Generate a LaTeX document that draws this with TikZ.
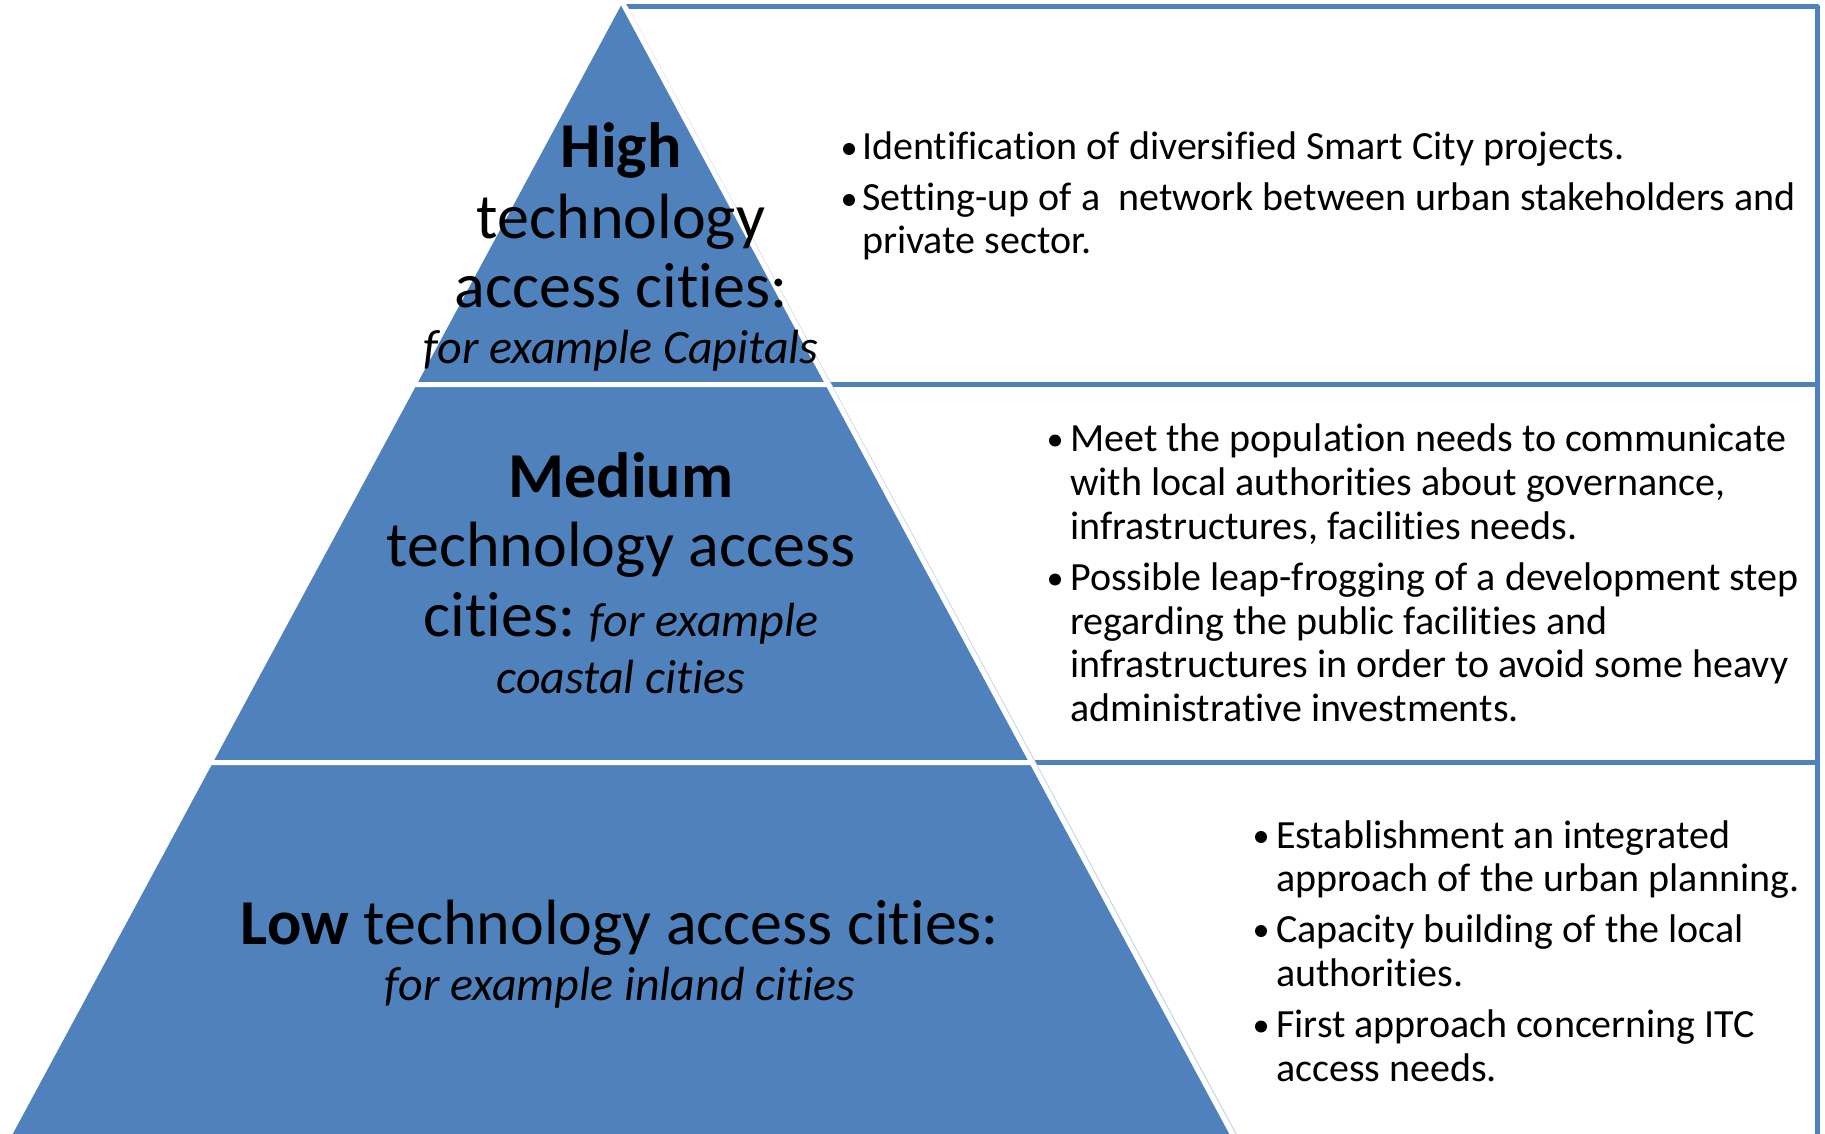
\documentclass[tikz,border=0pt]{standalone}
\usepackage{fontspec}
\setmainfont[Ligatures={NoCommon,NoContextual}]{Carlito}
\definecolor{pblue}{RGB}{79,129,189}
\definecolor{paleblue}{RGB}{198,214,236}
\newcommand\pyrbig{\fontsize{64}{70}\selectfont}
\newcommand\pyrit{\fontsize{48}{56}\selectfont\itshape}
\newcommand\bultxt{\fontsize{40}{44}\selectfont}
\tikzset{
  lvl/.style={font=\pyrbig, anchor=base, inner sep=0pt},
  lvlit/.style={font=\pyrit, anchor=base, inner sep=0pt},
  btxt/.style={font=\bultxt, anchor=base west, inner sep=0pt},
  seg/.style={fill=pblue, draw=white, line width=5pt, line join=miter},
  boxline/.style={draw=pblue, line width=4.5pt, line join=round},
  bdot/.style={fill=black},
}
\begin{document}
\begin{tikzpicture}[x=1pt,y=-1pt]
\useasboundingbox (0,0) rectangle (1825,1134);
\clip (0,0) rectangle (1825,1134);
% text boxes
\draw[boxline] (621,6.5) -- (1817.5,6.5) -- (1817.5,384.5) -- (826,384.5);
\draw[boxline] (1817.5,384.5) -- (1817.5,762.5) -- (1030,762.5);
\draw[boxline] (1817.5,762.5) -- (1817.5,1145);
\draw[paleblue, line width=1.2pt] (627,6.5) -- (1242,1145);
% pyramid
\path[seg] (621,0) -- (828.2,384.5) -- (413.8,384.5) -- cycle;
\path[seg] (413.8,384.5) -- (828.2,384.5) -- (1032,762.5) -- (210,762.5) -- cycle;
\path[seg] (210,762.5) -- (1032,762.5) -- (1238.2,1145) -- (3.8,1145) -- cycle;
% pyramid texts
\node[lvl] (t1) at (621,168) {\bfseries High};
\node[lvl] (t2) at (621,238) {technology};
\node[lvl] (t3) at (621,307) {access cities:};
\node[lvlit] (t4) at (621,363) {for example Capitals};
\node[lvl] (m1) at (621,497) {\bfseries Medium};
\node[lvl] (m2) at (621,566) {technology access};
\node[lvl] (m3) at (621,636) {cities:{\pyrit\kern14pt for example}};
\node[lvlit] (m4) at (621,693) {coastal cities};
\node[lvl] (b1) at (620,944) {\textbf{Low} technology access cities:};
\node[lvlit] (b2) at (620,1000) {for example inland cities};
% bullets top
\fill[bdot] (849,149) circle[radius=6pt];
\node[btxt] (a1) at (862,160) {Identification of diversified Smart City projects.};
\fill[bdot] (849,200) circle[radius=6pt];
\node[btxt] (a2) at (862,211) {Setting-up of a~ network between urban stakeholders and};
\node[btxt] (a3) at (862,253) {private sector.};
% bullets middle
\fill[bdot] (1055,440.5) circle[radius=6pt];
\node[btxt] (c1) at (1070,451.5) {Meet the population needs to communicate};
\node[btxt] (c2) at (1070,495.5) {with local authorities about governance,};
\node[btxt] (c3) at (1070,539) {infrastructures, facilities needs.};
\fill[bdot] (1055,579.5) circle[radius=6pt];
\node[btxt] (c4) at (1070,590.5) {Possible leap-frogging of a development step};
\node[btxt] (c5) at (1070,634) {regarding the public facilities and};
\node[btxt] (c6) at (1070,677.5) {infrastructures in order to avoid some heavy};
\node[btxt] (c7) at (1070,721) {administrative investments.};
% bullets bottom
\fill[bdot] (1261,837) circle[radius=6pt];
\node[btxt] (d1) at (1276,848) {Establishment an integrated};
\node[btxt] (d2) at (1276,891) {approach of the urban planning.};
\fill[bdot] (1261,931) circle[radius=6pt];
\node[btxt] (d3) at (1276,942) {Capacity building of the local};
\node[btxt] (d4) at (1276,986) {authorities.};
\fill[bdot] (1261,1026.5) circle[radius=6pt];
\node[btxt] (d5) at (1276,1037.5) {First approach concerning ITC};
\node[btxt] (d6) at (1276,1081) {access needs.};
\end{tikzpicture}
\end{document}
